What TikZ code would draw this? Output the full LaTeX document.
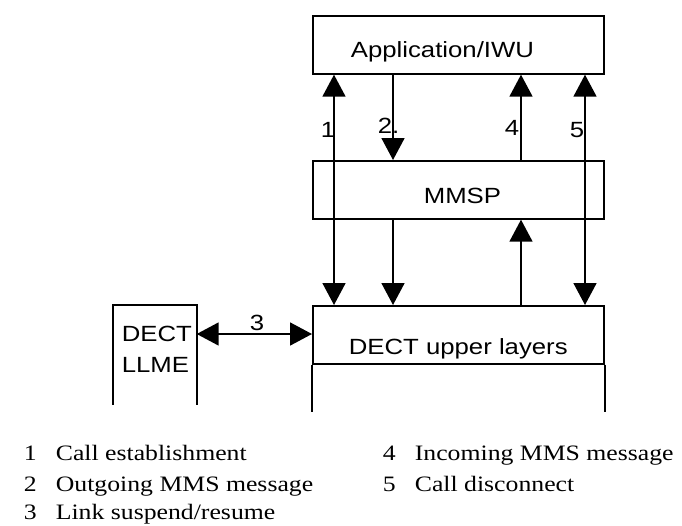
\documentclass[tikz,border=0pt]{standalone}
\usepackage{graphicx}
\usepackage{fontspec}
\setmainfont{Liberation Serif}
\newfontfamily\arialf{Liberation Sans}
\usetikzlibrary{arrows.meta}
\newcommand{\sx}[1]{\scalebox{1.17}[1]{#1}}
\begin{document}
\begin{tikzpicture}[x=1pt,y=-1pt, line width=1.7pt,
  box/.style={draw, inner sep=0pt, anchor=north west, minimum width=291pt, minimum height=58pt},
  lbl/.style={font=\arialf\fontsize{22}{26}\selectfont, inner sep=0pt, anchor=base west},
  leg/.style={font=\fontsize{22}{26}\selectfont, inner sep=0pt, anchor=base west},
  >={Triangle[length=22pt,width=23pt]}]
\useasboundingbox (0,0) rectangle (682,525);
% boxes
\node[box] (app) at (312,15) {};
\node[box] (mmsp) at (312,160) {};
\node[box] (dect) at (312,305) {};
\draw (dect.south west) -- ++(0,47);
\draw (dect.south east) -- ++(0,47);
\node[inner sep=0pt, anchor=north west, minimum width=82pt, minimum height=98pt] (llme) at (113,305) {};
\draw (llme.south west) -- (llme.north west) -- (llme.north east) -- (llme.south east);
% texts
\node[lbl] (tapp) at (350,57) {\sx{Application/IWU}};
\node[lbl] (tmmsp) at (423,203) {\sx{MMSP}};
\node[lbl] (tdect) at (348,354) {\sx{DECT upper layers}};
\node[lbl] (tllme1) at (121,341) {\sx{DECT}};
\node[lbl] (tllme2) at (121,372) {\sx{LLME}};
% arrow positions
\coordinate (x1) at (334,0);
\coordinate (x2) at (393,0);
\coordinate (x4) at (521,0);
\coordinate (x5) at (585,0);
\coordinate (y3) at (0,334);
\draw[<->] (app.south -| x1) -- (dect.north -| x1);
\draw[->] (app.south -| x2) -- (mmsp.north -| x2);
\draw[->] (mmsp.south -| x2) -- (dect.north -| x2);
\draw[->] (dect.north -| x4) -- (mmsp.south -| x4);
\draw[->] (mmsp.north -| x4) -- (app.south -| x4);
\draw[<->] (app.south -| x5) -- (dect.north -| x5);
\draw[<->] (llme.east |- y3) -- (dect.west |- y3);
% arrow labels
\node[lbl] (l1) at (320,137) {\sx{1}};
\node[lbl] (l2) at (377,133) {\sx{2.}};
\node[lbl] (l4) at (504,135) {\sx{4}};
\node[lbl] (l5) at (569,137) {\sx{5}};
\node[lbl] (l3) at (249,330) {\sx{3}};
% legend
\node[leg] (n1) at (23,460) {\sx{1}};
\node[leg] (t1) at (55,460) {\sx{Call establishment}};
\node[leg] (n2) at (23,491) {\sx{2}};
\node[leg] (t2) at (55,491) {\sx{Outgoing MMS message}};
\node[leg] (n3) at (23,519) {\sx{3}};
\node[leg] (t3) at (55,519) {\sx{Link suspend/resume}};
\node[leg] (n4) at (382,460) {\sx{4}};
\node[leg] (t4) at (414,460) {\sx{Incoming MMS message}};
\node[leg] (n5) at (382,491) {\sx{5}};
\node[leg] (t5) at (414,491) {\sx{Call disconnect}};
\end{tikzpicture}
\end{document}
